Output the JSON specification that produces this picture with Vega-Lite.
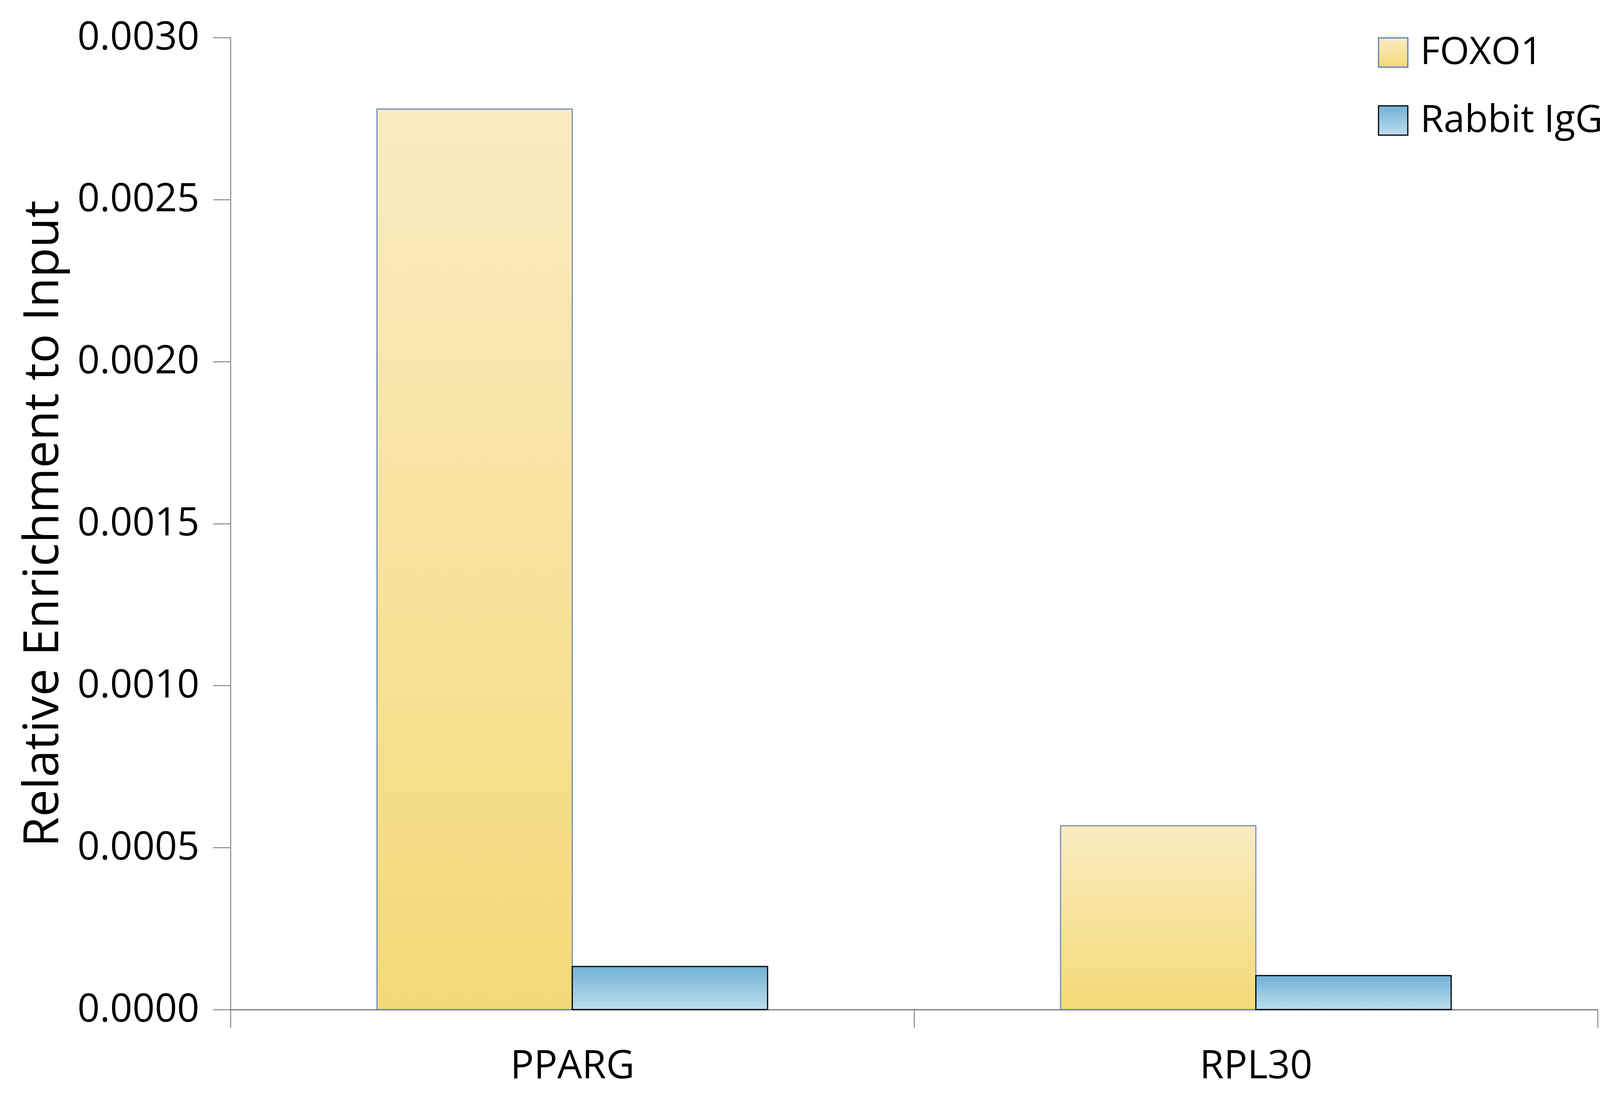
{
  "$schema": "https://vega.github.io/schema/vega-lite/v6.json",
  "autosize": {"type": "none"},
  "padding": {"left": 590, "top": 96, "right": 93, "bottom": 270},
  "width": 3500,
  "height": 2489,
  "background": "#ffffff",
  "config": {
    "view": {"stroke": null},
    "font": "Open Sans",
    "axis": {"labelFont": "Open Sans", "titleFont": "Open Sans", "labelColor": "#000000", "titleColor": "#000000", "labelLimit": 0},
    "legend": {"labelFont": "Open Sans", "labelColor": "#000000", "labelLimit": 0}
  },
  "data": {
    "values": [
      {"gene": "PPARG", "series": "FOXO1", "value": 0.002779},
      {"gene": "PPARG", "series": "Rabbit IgG", "value": 0.000133},
      {"gene": "RPL30", "series": "FOXO1", "value": 0.000567},
      {"gene": "RPL30", "series": "Rabbit IgG", "value": 0.000105}
    ]
  },
  "mark": {"type": "bar"},
  "encoding": {
    "x": {
      "field": "gene", "type": "nominal", "sort": ["PPARG", "RPL30"],
      "scale": {"paddingInner": 0, "paddingOuter": 0},
      "axis": {
        "title": null, "labelAngle": 0, "labelFontSize": 100, "labelPadding": 50,
        "tickBand": "extent", "tickSize": 46, "tickColor": "#868686", "tickWidth": 2.5,
        "domainColor": "#868686", "domainWidth": 3.5
      }
    },
    "xOffset": {"field": "series", "type": "nominal", "sort": ["FOXO1", "Rabbit IgG"], "scale": {"paddingInner": 0, "paddingOuter": 0.75}},
    "y": {
      "field": "value", "type": "quantitative",
      "scale": {"domain": [0, 0.003], "nice": false},
      "axis": {
        "values": [0, 0.0005, 0.001, 0.0015, 0.002, 0.0025, 0.003],
        "format": ".4f", "grid": false,
        "title": "Relative Enrichment to Input", "titleFontSize": 125, "titleFontWeight": "normal",
        "titleX": -442, "titleBaseline": "alphabetic",
        "labelFontSize": 100, "labelPadding": 35,
        "tickSize": 45, "tickColor": "#868686", "tickWidth": 2.5,
        "domainColor": "#868686", "domainWidth": 2.5
      }
    },
    "fill": {
      "field": "series", "type": "nominal",
      "scale": {
        "domain": ["FOXO1", "Rabbit IgG"],
        "range": [
          {"expr": "{gradient: 'linear', x1: 0, y1: 0, x2: 0, y2: 1, stops: [{offset: 0, color: '#F9ECC2'}, {offset: 1, color: '#F5D977'}]}"},
          {"expr": "{gradient: 'linear', x1: 0, y1: 0, x2: 0, y2: 1, stops: [{offset: 0, color: '#71B2D6'}, {offset: 1, color: '#BCDDEE'}]}"}
        ]
      },
      "legend": {
        "title": null, "orient": "none", "legendX": 2928, "legendY": -10,
        "padding": 0, "symbolType": "square", "symbolSize": 5625,
        "symbolStrokeWidth": 3, "labelFontSize": 97, "labelOffset": 21, "rowPadding": 76
      }
    },
    "stroke": {
      "field": "series", "type": "nominal",
      "scale": {"domain": ["FOXO1", "Rabbit IgG"], "range": ["#5B7DB8", "#000000"]},
      "legend": {
        "title": null, "orient": "none", "legendX": 2928, "legendY": -10,
        "padding": 0, "symbolType": "square", "symbolSize": 5625,
        "symbolStrokeWidth": 3, "labelFontSize": 97, "labelOffset": 21, "rowPadding": 76
      }
    },
    "strokeWidth": {
      "condition": {"test": "datum.series === 'FOXO1'", "value": 2.5},
      "value": 3
    }
  }
}
